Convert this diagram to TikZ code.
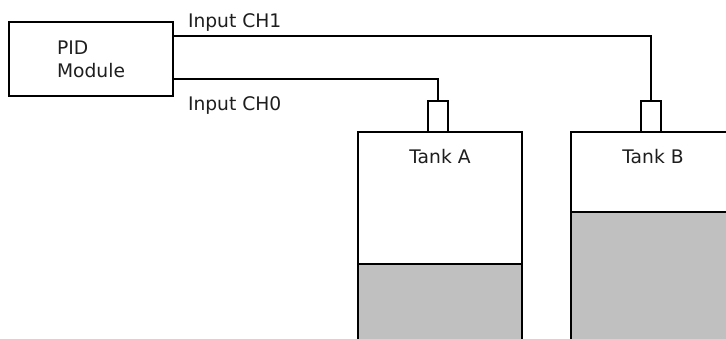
\documentclass[tikz,border=0pt]{standalone}
\usepackage{fontspec}
\setmainfont{DejaVu Sans}
\definecolor{liquidgray}{RGB}{192, 192, 192}
\definecolor{textgray}{RGB}{30, 30, 30}
\usetikzlibrary{positioning}

\begin{document}
\begin{tikzpicture}[x=1pt, y=-1pt, line width=2pt,
    every node/.style={font=\fontsize{18.7}{23.3}\selectfont, text=textgray, inner sep=0pt},
    box/.style={draw, rectangle, inner sep=0pt, outer sep=0pt},
    tank/.style={box, anchor=north west, minimum width=164pt, minimum height=230pt},
    sensor/.style={box, anchor=south, minimum width=20pt, minimum height=31pt}]
  \clip (0,0) rectangle (726,338);

  % controller
  \node[box, minimum width=164pt, minimum height=74pt, align=left] (pid) at (91,59) {PID\\Module};

  % tanks with their level
  \node[tank] (tankA) at (358,132) {};
  \draw[fill=liquidgray] ([yshift=-132pt]tankA.north west) rectangle (tankA.south east);
  \node[anchor=base] (labelA) at ([yshift=-31pt]tankA.north) {Tank A};

  \node[tank] (tankB) at (571,132) {};
  \draw[fill=liquidgray] ([yshift=-80pt]tankB.north west) rectangle (tankB.south east);
  \node[anchor=base] (labelB) at ([yshift=-31pt]tankB.north) {Tank B};

  % level sensors
  \node[sensor] (senseA) at ([xshift=-2.5pt]tankA.north) {};
  \node[sensor] (senseB) at ([xshift=-2pt]tankB.north) {};

  % inputs
  \draw ([yshift=23pt]pid.east) -| (senseB.north);
  \draw ([yshift=-20pt]pid.east) -| (senseA.north);
  \node[anchor=base west] (labelCH1) at (187,27) {Input CH1};
  \node[anchor=base west] (labelCH0) at (187,110) {Input CH0};
\end{tikzpicture}
\end{document}
